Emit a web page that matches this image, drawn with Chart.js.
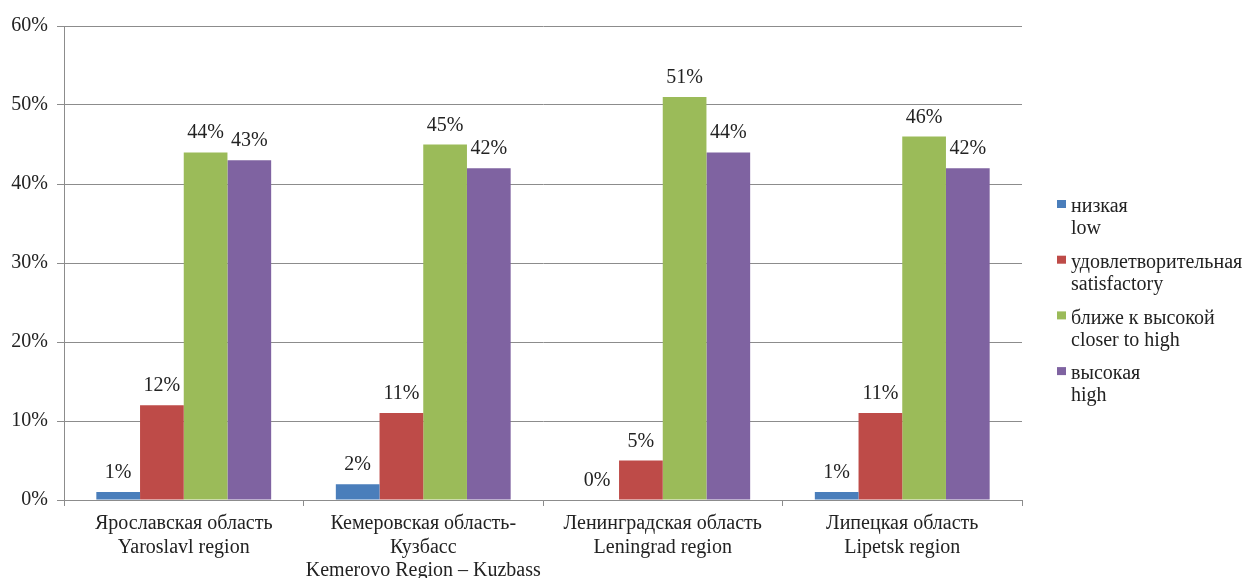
<!DOCTYPE html>
<html>
<head>
<meta charset="utf-8">
<script src="https://cdn.jsdelivr.net/npm/chart.js@4.4.1/dist/chart.umd.min.js"></script>
<style>
  html, body { margin: 0; padding: 0; background: #fff; }
  #wrap { width: 1245px; height: 578px; position: relative; }
</style>
</head>
<body>
<div id="wrap"><canvas id="c" width="1245" height="578"></canvas></div>
<script>
// Regions (two or three lines each: Russian name, English name)
const categories = [
  ['Ярославская область', 'Yaroslavl region'],
  ['Кемеровская область-', 'Кузбасс', 'Kemerovo Region – Kuzbass'],
  ['Ленинградская область', 'Leningrad region'],
  ['Липецкая область', 'Lipetsk region']
];

// Series names (Russian / English)
const seriesNames = [
  ['низкая', 'low'],
  ['удовлетворительная', 'satisfactory'],
  ['ближе к высокой', 'closer to high'],
  ['высокая', 'high']
];

// Shares by level, percent
const lowValues          = [1, 2, 0, 1];
const satisfactoryValues = [12, 11, 5, 11];
const closerHighValues   = [44, 45, 51, 46];
const highValues         = [43, 42, 44, 42];

const yTicks = [0, 10, 20, 30, 40, 50, 60];

const seriesColors = ['#4A7EBB', '#BE4B48', '#9BBB59', '#7F63A1'];
const FONT = '"Liberation Serif", "Times New Roman", serif';
const FONT_SIZE = 20;
const GRID = '#8c8c8c';

const seriesValues = [lowValues, satisfactoryValues, closerHighValues, highValues];

// Value labels above each bar
const valueLabels = {
  id: 'valueLabels',
  afterDatasetsDraw(chart) {
    const ctx = chart.ctx;
    ctx.save();
    ctx.font = FONT_SIZE + 'px ' + FONT;
    ctx.fillStyle = '#222';
    ctx.textAlign = 'center';
    ctx.textBaseline = 'alphabetic';
    chart.data.datasets.forEach((ds, i) => {
      const meta = chart.getDatasetMeta(i);
      meta.data.forEach((bar, j) => {
        ctx.fillText(ds.data[j] + '%', bar.x, bar.y - 14);
      });
    });
    ctx.restore();
  }
};

// Two-line legend on the right
const sideLegend = {
  id: 'sideLegend',
  afterDraw(chart) {
    const ctx = chart.ctx;
    ctx.save();
    ctx.font = FONT_SIZE + 'px ' + FONT;
    ctx.textAlign = 'left';
    ctx.textBaseline = 'middle';
    const x0 = 1057, startY = 207, step = 55.7, lineH = 22;
    seriesNames.forEach((name, i) => {
      const y = startY + i * step;
      ctx.fillStyle = seriesColors[i];
      ctx.fillRect(x0, y - 7, 9, 8);
      ctx.fillStyle = '#222';
      ctx.fillText(name[0], x0 + 14, y);
      ctx.fillText(name[1], x0 + 14, y + lineH);
    });
    ctx.restore();
  }
};

new Chart(document.getElementById('c'), {
  type: 'bar',
  data: {
    labels: categories,
    datasets: seriesValues.map((vals, i) => ({
      label: seriesNames[i].join(' '),
      data: vals,
      backgroundColor: seriesColors[i],
      borderWidth: 0,
      categoryPercentage: 0.73,
      barPercentage: 1.0
    }))
  },
  options: {
    responsive: false,
    animation: false,
    devicePixelRatio: 1,
    layout: { padding: { top: 26, right: 223, left: 0, bottom: 0 } },
    plugins: {
      legend: { display: false },
      tooltip: { enabled: false }
    },
    scales: {
      x: {
        offset: true,
        grid: {
          display: true,
          offset: true,
          drawOnChartArea: false,
          drawTicks: true,
          tickLength: 6,
          color: GRID
        },
        border: { display: true, color: GRID, width: 1 },
        ticks: {
          font: { family: FONT, size: FONT_SIZE, lineHeight: 1.18 },
          color: '#222',
          padding: 6,
          maxRotation: 0,
          autoSkip: false
        },
        afterFit(scale) { scale.height = 78; }
      },
      y: {
        min: 0,
        max: 60,
        afterBuildTicks(scale) { scale.ticks = yTicks.map(v => ({ value: v })); },
        grid: {
          color: GRID,
          lineWidth: 1,
          drawTicks: true,
          tickLength: 7
        },
        border: { display: true, color: GRID, width: 1 },
        ticks: {
          font: { family: FONT, size: FONT_SIZE },
          color: '#222',
          padding: 9,
          callback: v => v + '%'
        },
        afterFit(scale) { scale.width = 64; }
      }
    }
  },
  plugins: [valueLabels, sideLegend]
});
</script>
</body>
</html>
